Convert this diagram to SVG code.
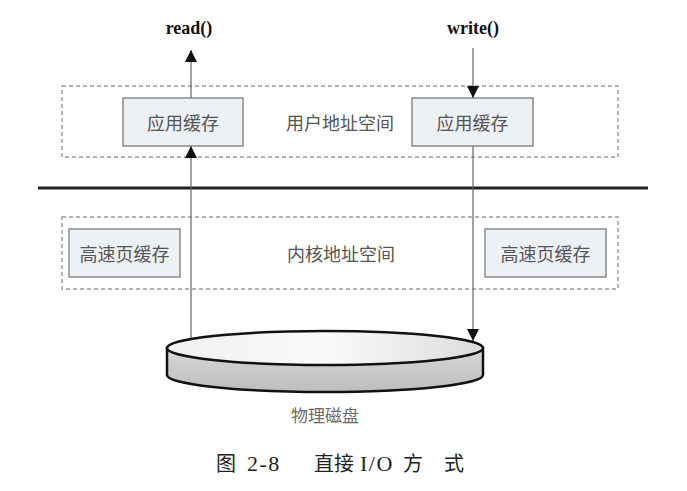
<svg xmlns="http://www.w3.org/2000/svg" width="687" height="491" viewBox="0 0 687 491">
<style>
.zone{fill:none;stroke:#9a9a9a;stroke-width:1.5;stroke-dasharray:4 3}
.cache{fill:#edf0f5;stroke:#8a8a8a;stroke-width:1.5}
.cn{font-family:"Noto Sans CJK SC","Noto Sans CJK JP",sans-serif;font-size:18px;fill:#555;text-anchor:middle;dominant-baseline:central}
.fn{font-family:"Liberation Serif",serif;font-weight:bold;font-size:18px;fill:#111;text-anchor:middle}
.conn{stroke:#666;stroke-width:1.2;fill:none}
.cap{font-family:"Liberation Serif","Noto Sans CJK SC",serif;font-size:20px;fill:#222}
.lat{font-size:22px;letter-spacing:1.5px}
</style>
<defs>
<marker id="ah" viewBox="0 0 12 12" refX="12" refY="6" markerWidth="12" markerHeight="12" markerUnits="userSpaceOnUse" orient="auto">
<path d="M0,0 L12,6 L0,12 Z" fill="#111"/>
</marker>
<linearGradient id="side" x1="0" y1="0" x2="0" y2="1">
<stop offset="0" stop-color="#d8d8d8"/>
<stop offset="1" stop-color="#bdbdbd"/>
</linearGradient>
<linearGradient id="top" x1="0" y1="0" x2="1" y2="0">
<stop offset="0" stop-color="#f0f0f0"/>
<stop offset="0.5" stop-color="#fafafa"/>
<stop offset="1" stop-color="#dcdcdc"/>
</linearGradient>
</defs>
<rect width="687" height="491" fill="#fff"/>

<g id="user-space">
<rect class="zone" x="62" y="86" width="556" height="71"/>
<text class="cn" x="340" y="122">用户地址空间</text>
</g>
<g id="kernel-space">
<rect class="zone" x="62" y="217" width="556" height="72"/>
<text class="cn" x="341" y="253">内核地址空间</text>
</g>
<g id="divider">
<line x1="38" y1="188" x2="648" y2="188" stroke="#222" stroke-width="3"/>
</g>

<g id="app-cache-left">
<rect class="cache" x="123" y="98" width="120" height="48"/>
<text class="cn" x="183" y="122">应用缓存</text>
</g>
<g id="app-cache-right">
<rect class="cache" x="412" y="98" width="121" height="48"/>
<text class="cn" x="472.5" y="122">应用缓存</text>
</g>
<g id="page-cache-left">
<rect class="cache" x="69" y="229" width="111" height="48"/>
<text class="cn" x="124.5" y="253">高速页缓存</text>
</g>
<g id="page-cache-right">
<rect class="cache" x="485" y="229" width="121" height="48"/>
<text class="cn" x="545.5" y="253">高速页缓存</text>
</g>

<g id="read-label"><text class="fn" x="189" y="34">read()</text></g>
<g id="write-label"><text class="fn" x="473" y="34">write()</text></g>

<g id="connectors">
<line class="conn" x1="191" y1="338" x2="191" y2="146" marker-end="url(#ah)"/>
<line class="conn" x1="191" y1="98" x2="191" y2="50" marker-end="url(#ah)"/>
<line class="conn" x1="473" y1="48" x2="473" y2="98" marker-end="url(#ah)"/>
<line class="conn" x1="473" y1="146" x2="473" y2="341" marker-end="url(#ah)"/>
</g>

<g id="disk">
<path d="M167,348 L167,375 A158,17 0 0 0 483,375 L483,348 Z" fill="url(#side)" stroke="#111" stroke-width="2.5"/>
<ellipse cx="325" cy="348" rx="158" ry="17" fill="url(#top)" stroke="#111" stroke-width="2.5"/>
<text class="cn" x="325" y="414" style="font-size:17px;fill:#6a6a6a">物理磁盘</text>
</g>

<g id="caption">
<text class="cap" y="471"><tspan x="216">图</tspan><tspan class="lat" x="247">2-8</tspan><tspan x="314">直接</tspan><tspan class="lat" x="360">I/O</tspan><tspan x="403">方</tspan><tspan x="444">式</tspan></text>
</g>
</svg>
